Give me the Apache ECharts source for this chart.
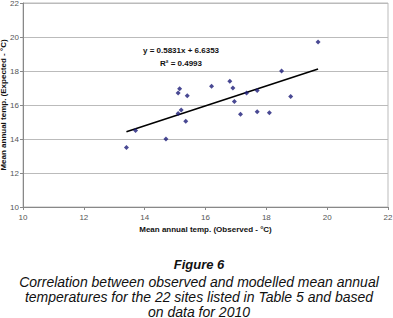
<!DOCTYPE html>
<html>
<head>
<meta charset="utf-8">
<script src="https://cdn.jsdelivr.net/npm/echarts@6/dist/echarts.min.js"></script>
<style>
  html, body { margin: 0; padding: 0; background: #fff; }
  #chart { width: 393px; height: 318px; }
</style>
</head>
<body>
<div id="chart"></div>
<script>
// observed vs expected mean annual temp
const observed = [13.4, 13.7, 14.7, 15.35, 15.2, 15.1, 15.1, 15.15, 15.4, 16.2, 16.8,
  16.9, 16.95, 17.15, 17.35, 17.7, 17.7, 18.1, 18.5, 18.8, 19.7];
const expected = [13.5, 14.5, 14.0, 15.05, 15.7, 15.5, 16.7, 16.95, 16.55, 17.1, 17.4,
  17.0, 16.2, 15.45, 16.7, 15.6, 16.85, 15.55, 18.0, 16.5, 19.7];
// trendline ends (y = 0.5831x + 6.6353)
const trendX = [13.4, 19.7];
const trendY = [14.43, 18.12];
const xTicks = [10, 12, 14, 16, 18, 20, 22];
const yTicks = [10, 12, 14, 16, 18, 20, 22];

const points = observed.map((x, i) => [x, expected[i]]);
const trend = trendX.map((x, i) => [x, trendY[i]]);

const myChart = echarts.init(document.getElementById('chart'), null, { renderer: 'svg' });

const option = {
  animation: false,
  title: [
    {
      text: 'y = 0.5831x + 6.6353',
      left: 176, top: 41, textAlign: 'center',
      textStyle: { fontFamily: 'Liberation Sans', fontSize: 8, fontWeight: 'bold', color: '#111' }
    },
    {
      text: 'R² = 0.4993',
      left: 176, top: 54, textAlign: 'center',
      textStyle: { fontFamily: 'Liberation Sans', fontSize: 8, fontWeight: 'bold', color: '#111' }
    },
    {
      text: 'Figure 6',
      left: 194, top: 253, textAlign: 'center',
      textStyle: { fontFamily: 'Liberation Sans', fontSize: 13, fontWeight: 'bold', fontStyle: 'italic', color: '#111' }
    },
    {
      text: 'Correlation between observed and modelled mean annual\ntemperatures for the 22 sites listed in Table 5 and based\non data for 2010',
      left: 194, top: 269, textAlign: 'center',
      textStyle: { fontFamily: 'Liberation Sans', fontSize: 14, fontWeight: 'normal', fontStyle: 'italic', color: '#111', lineHeight: 15 }
    }
  ],
  grid: {
    left: 23, right: 5, top: 3, bottom: 111,
    containLabel: false, outerBoundsMode: 'none',
    show: true, borderColor: '#bbb', borderWidth: 1, backgroundColor: '#fff'
  },
  xAxis: {
    type: 'value',
    min: xTicks[0], max: xTicks[xTicks.length - 1], interval: 2,
    name: 'Mean annual temp. (Observed - °C)',
    nameLocation: 'middle', nameGap: 18, nameMoveOverlap: false,
    nameTextStyle: { fontFamily: 'Liberation Sans', fontSize: 8, fontWeight: 'bold', color: '#111' },
    axisLine: { show: true, lineStyle: { color: '#888' } },
    axisTick: { show: true, length: 3, lineStyle: { color: '#888' } },
    axisLabel: { fontFamily: 'Liberation Sans', fontSize: 8, color: '#555', margin: 6 },
    splitLine: { show: false }
  },
  yAxis: {
    type: 'value',
    min: yTicks[0], max: yTicks[yTicks.length - 1], interval: 2,
    name: 'Mean annual temp. (Expected - °C)',
    nameLocation: 'middle', nameGap: 16, nameMoveOverlap: false,
    nameTextStyle: { fontFamily: 'Liberation Sans', fontSize: 8, fontWeight: 'bold', color: '#111' },
    axisLine: { show: true, lineStyle: { color: '#888' } },
    axisTick: { show: true, length: 3, lineStyle: { color: '#888' } },
    axisLabel: { fontFamily: 'Liberation Sans', fontSize: 8, color: '#555', margin: 4 },
    splitLine: { show: true, lineStyle: { color: '#bbb', width: 1 } }
  },
  series: [
    {
      type: 'line',
      data: trend,
      symbol: 'none',
      lineStyle: { color: '#000', width: 1.6 },
      z: 2
    },
    {
      type: 'scatter',
      data: points,
      symbol: 'diamond',
      symbolSize: 5,
      itemStyle: { color: '#1c1c78' },
      z: 3
    }
  ]
};

myChart.setOption(option);
</script>
</body>
</html>
